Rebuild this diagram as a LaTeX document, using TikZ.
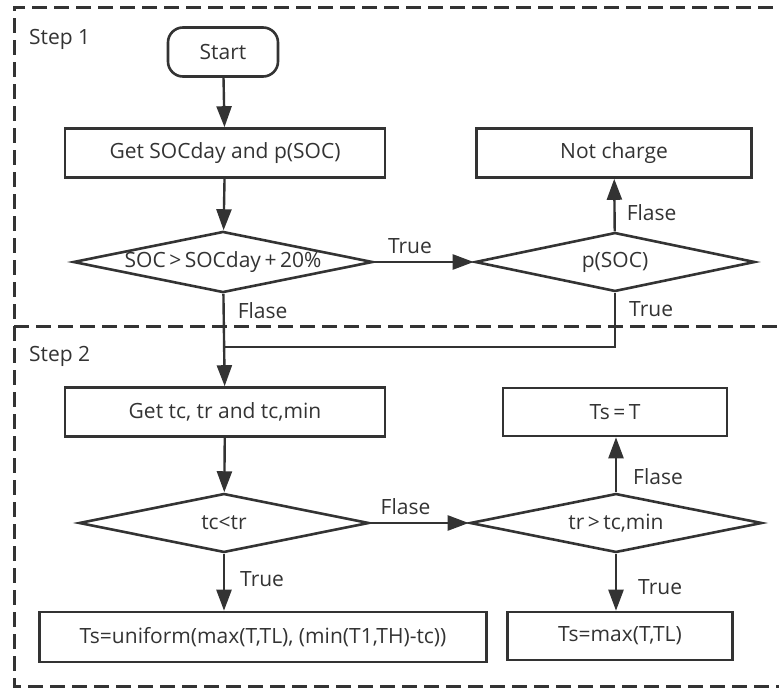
\documentclass[tikz,border=0pt]{standalone}
\usepackage{fontspec}
\setmainfont{Open Sans}
\usetikzlibrary{shapes.geometric,arrows.meta}
\definecolor{ink}{HTML}{333333}
\begin{document}
\begin{tikzpicture}[
  x=1pt,y=-1pt,
  >={Triangle[length=21pt,width=15pt]},
  line width=2.4pt,color=ink,
  box/.style={draw=ink,line width=2.6pt,minimum width=320pt,minimum height=49pt,inner sep=0pt,align=center},
  term/.style={box,rounded corners=15pt,minimum width=110pt},
  test/.style={draw=ink,diamond,aspect=4.9,minimum width=290pt,minimum height=59pt,inner sep=0pt,line width=2.6pt},
  lbl/.style={inner sep=0pt},
  every node/.style={font=\fontsize{21}{25}\selectfont,text=ink}
]
\useasboundingbox (0,0) rectangle (779,688);

% --- Frames ---
\draw[line width=3pt,dash pattern=on 15pt off 7pt] (795,7) -- (14,7) -- (14,686) -- (795,686);
\draw[line width=3pt,dash pattern=on 15pt off 7pt] (14,326) -- (795,326);
\node[lbl,anchor=west] (s1) at (28,39) {Step 1};
\node[lbl,anchor=west] (s2) at (28,356) {Step 2};

% --- Nodes ---
\node[term] (start) at (223,52) {Start};
\node[box] (soc) at (225,153) {Get SOCday and p(SOC)};
\node[test] (d1) at (223,262) {SOC\,>\,SOCday\,+\,20\%};
\node[test,minimum width=280pt] (d2) at (615,262) {p(SOC)};
\node[box,minimum width=275pt] (nc) at (614,153) {Not charge};
\coordinate (join) at (225,347);

\node[box] (gett) at (225,412) {Get tc, tr and tc,min};
\node[test] (d3) at (224,523) {tc<tr};
\node[test,minimum width=292pt] (d4) at (616,523) {tr\,>\,tc,min};
\node[box,minimum width=224pt,minimum height=48pt] (ts) at (615,412) {Ts\,=\,T};
\node[box,minimum width=447pt,minimum height=50pt] (uni) at (263,637) {Ts=uniform(max(T,TL), (min(T1,TH)-tc))};
\node[box,minimum width=225pt,minimum height=48pt] (tsmax) at (620,636) {Ts=max(T,TL)};

% --- Arrows ---
\draw[->] (start) -- (soc);
\draw[->] (soc) -- (d1);
\draw[->] (d1) -- node[lbl,above=7pt,xshift=-14pt] {True} (d2);
\draw[->] (d2) -- node[lbl,anchor=west,pos=0.36,xshift=11pt] {Flase} (nc);
\draw[->] (d1) -- node[lbl,anchor=west,pos=0.18,xshift=13pt] {Flase} (gett);
% p(SOC) true joins the Flase line
\draw (d2.south) -- node[lbl,anchor=west,pos=0.3,xshift=13pt] {True} (d2.south |- join) -- (join);

\draw[->] (gett) -- (d3);
\draw[->] (d3) -- node[lbl,above=7pt,xshift=-14pt] {Flase} (d4);
\draw[->] (d4.north) -- node[lbl,anchor=west,pos=0.28,xshift=16pt] {Flase} (d4.north |- ts.south);
\draw[->] (d3.south) -- node[lbl,anchor=west,pos=0.44,xshift=15pt] {True} (d3.south |- uni.north);
\draw[->] (d4.south) -- node[lbl,anchor=west,pos=0.59,xshift=21pt] {True} (d4.south |- tsmax.north);

\end{tikzpicture}
\end{document}
